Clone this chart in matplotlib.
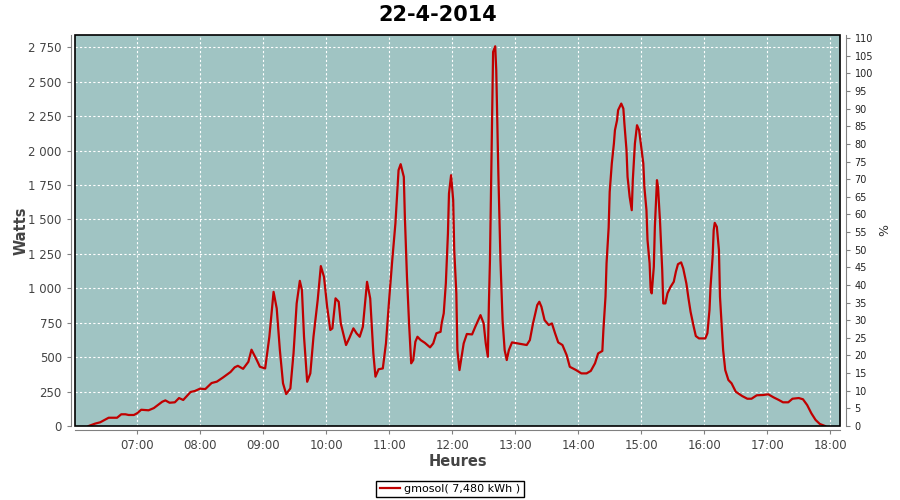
import matplotlib
matplotlib.use("Agg")
import matplotlib.pyplot as plt
import matplotlib.dates as mdates
from matplotlib.patches import Rectangle
from matplotlib.ticker import FuncFormatter, MultipleLocator
import pandas as pd

heures = [
    "06:14", "06:20", "06:25", "06:30", "06:33", "06:41", "06:45", "06:49", "06:52", "06:57",
    "07:00", "07:04", "07:11", "07:16", "07:24", "07:27", "07:31", "07:36", "07:40", "07:44",
    "07:51", "07:55", "08:00", "08:05", "08:11", "08:16", "08:22", "08:29", "08:33", "08:36",
    "08:41", "08:46", "08:49", "08:54", "08:57", "09:02", "09:06", "09:10", "09:13", "09:16",
    "09:19", "09:22", "09:26", "09:29", "09:32", "09:35", "09:37", "09:39", "09:42", "09:45",
    "09:48", "09:52", "09:55", "09:58", "10:01", "10:04", "10:06", "10:09", "10:12", "10:14",
    "10:19", "10:22", "10:26", "10:29", "10:32", "10:35", "10:39", "10:42", "10:45", "10:47",
    "10:50", "10:54", "10:57", "11:00", "11:03", "11:06", "11:09", "11:11", "11:14", "11:15",
    "11:17", "11:19", "11:21", "11:23", "11:25", "11:27", "11:30", "11:34", "11:39", "11:42",
    "11:45", "11:49", "11:50", "11:52", "11:54", "11:56", "11:57", "11:59", "12:01", "12:02",
    "12:04", "12:05", "12:07", "12:09", "12:11", "12:14", "12:19", "12:22", "12:27", "12:30",
    "12:32", "12:34", "12:35", "12:36", "12:37", "12:38", "12:39", "12:41", "12:42", "12:43",
    "12:44", "12:46", "12:48", "12:50", "12:52", "12:54", "12:57", "13:02", "13:11", "13:14",
    "13:17", "13:21", "13:23", "13:25", "13:28", "13:32", "13:35", "13:38", "13:41", "13:45",
    "13:49", "13:52", "13:58", "14:03", "14:08", "14:12", "14:16", "14:19", "14:23", "14:24",
    "14:26", "14:27", "14:29", "14:30", "14:32", "14:34", "14:35", "14:37", "14:38", "14:41",
    "14:43", "14:44", "14:46", "14:47", "14:49", "14:51", "14:52", "14:54", "14:56", "14:58",
    "15:00", "15:02", "15:03", "15:05", "15:06", "15:08", "15:09", "15:10", "15:12", "15:13",
    "15:15", "15:16", "15:18", "15:20", "15:21", "15:23", "15:25", "15:28", "15:31", "15:33",
    "15:35", "15:38", "15:40", "15:43", "15:45", "15:47", "15:50", "15:52", "15:55", "16:01",
    "16:03", "16:05", "16:06", "16:08", "16:09", "16:10", "16:12", "16:14", "16:15", "16:18",
    "16:20", "16:23", "16:26", "16:30", "16:36", "16:41", "16:45", "16:50", "16:56", "17:01",
    "17:06", "17:11", "17:15", "17:20", "17:24", "17:30", "17:34", "17:38", "17:42", "17:46",
    "17:50", "17:55",
]
watts = [
    0, 17, 27, 48, 60, 60, 85, 85, 80, 80,
    92, 118, 114, 130, 176, 186, 169, 172, 203, 189,
    247, 254, 271, 268, 312, 322, 353, 392, 426, 437,
    415, 466, 554, 479, 430, 418, 648, 974, 854, 551,
    310, 232, 273, 527, 890, 1054, 987, 648, 321, 382,
    648, 914, 1161, 1083, 866, 697, 709, 927, 902, 745,
    588, 636, 709, 673, 648, 720, 1047, 926, 527, 358,
    412, 418, 600, 914, 1204, 1471, 1858, 1901, 1809, 1519,
    1083, 745, 455, 479, 612, 648, 624, 604, 571, 600,
    673, 684, 745, 818, 1035, 1398, 1688, 1821, 1640, 1277,
    963, 551, 406, 503, 600, 668, 665, 720, 805, 745,
    600, 503, 890, 1200, 1700, 2200, 2716, 2757, 2583, 2196,
    1833, 1204, 769, 551, 479, 551, 607, 600, 588, 624,
    745, 878, 902, 866, 769, 733, 745, 673, 607, 588,
    515, 430, 406, 382, 382, 400, 455, 527, 545, 697,
    938, 1181, 1440, 1700, 1906, 2051, 2148, 2220, 2293, 2341,
    2305, 2196, 2003, 1809, 1664, 1567, 1785, 2051, 2184, 2148,
    2027, 1906, 1736, 1567, 1350, 1181, 987, 963, 1156, 1446,
    1785, 1736, 1471, 1132, 890, 890, 963, 1011, 1047, 1120,
    1175, 1188, 1144, 1035, 927, 829, 720, 653, 636, 636,
    673, 842, 1011, 1229, 1422, 1475, 1446, 1277, 938, 551,
    406, 334, 310, 249, 218, 198, 198, 223, 225, 230,
    208, 189, 172, 172, 198, 203, 194, 152, 92, 44,
    15, 0,
]
jour = "2014-04-22"
titre = "22-4-2014"
serie = "gmosol( 7,480 kWh )"
puissance_crete = 2560  # W correspondant a 100 %

t = pd.to_datetime([jour + " " + h for h in heures])

fig = plt.figure(figsize=(9, 5), dpi=100)
ax = fig.add_axes([75 / 900, 74 / 500, 765 / 900, 391 / 500])
ax.set_facecolor("#a0c4c3")

ax.plot(t, watts, color="#c00000", lw=1.6, label=serie)

ax.set_xlim(pd.Timestamp(jour + " 06:00:58"), pd.Timestamp(jour + " 18:09:15"))
ymax = 2839
ax.set_ylim(0, ymax)
ax.yaxis.set_major_locator(MultipleLocator(250))
ax.yaxis.set_major_formatter(FuncFormatter(lambda v, p: f"{v:,.0f}".replace(",", " ")))
ax.xaxis.set_major_locator(mdates.HourLocator())
ax.xaxis.set_major_formatter(mdates.DateFormatter("%H:%M"))
ax.grid(True, color="white", ls=(0, (2, 2)), lw=0.8)

gris = "#808080"
for s in ["left", "bottom"]:
    ax.spines[s].set_position(("outward", 3))
    ax.spines[s].set_color(gris)
ax.spines["top"].set_visible(False)
ax.spines["right"].set_visible(False)
ax.add_patch(Rectangle((0, 0), 1, 1, transform=ax.transAxes, fill=False,
                       ec="black", lw=1.2, clip_on=False, zorder=5))
ax.tick_params(direction="out", length=3, color=gris, labelcolor="#444444", labelsize=8.5)

ax2 = ax.twinx()
ax2.set_ylim(0, ymax / puissance_crete * 100)
ax2.yaxis.set_major_locator(MultipleLocator(5))
for s in ["left", "bottom", "top"]:
    ax2.spines[s].set_visible(False)
ax2.spines["right"].set_position(("outward", 4))
ax2.spines["right"].set_color(gris)
ax2.tick_params(direction="out", length=3, color=gris, labelcolor="#222222", labelsize=7)
ax2.set_ylabel("%", fontsize=9, color="#333333")

ax.set_ylabel("Watts", fontsize=10.5, fontweight="bold", color="#444444", labelpad=0)
ax.set_xlabel("Heures", fontsize=10.5, fontweight="bold", color="#444444", labelpad=1)
fig.suptitle(titre, fontsize=15, fontweight="bold", x=0.486, y=0.99)

fig.legend(loc="lower center", bbox_to_anchor=(0.5, -0.006), fancybox=False,
           edgecolor="black", framealpha=1, fontsize=8, handlelength=1.8,
           borderpad=0.3, handletextpad=0.4)

fig.savefig("out.png", dpi=100)
